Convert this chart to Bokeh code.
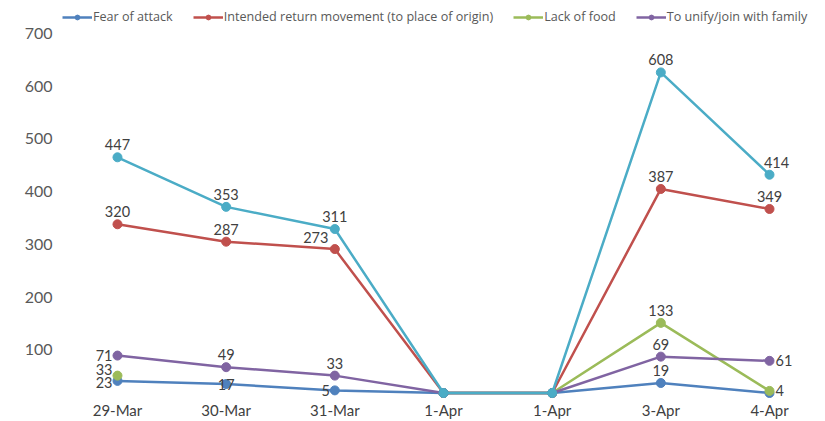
import math
from bokeh.plotting import figure
from bokeh.models import (Range1d, LinearAxis, FixedTicker, Legend, LegendItem,
                          ColumnDataSource, LabelSet)
from bokeh.core.properties import value
from bokeh.embed import file_html
from bokeh.resources import INLINE

NAN = float("nan")

# ---- data ----
categories = ["29-Mar", "30-Mar", "31-Mar", "1-Apr", "1-Apr", "3-Apr", "4-Apr"]
fear_of_attack = [23, 17, 5, 0, 0, 19, 0]
intended_return = [320, 287, 273, 0, 0, 387, 349]
lack_of_food = [33, NAN, NAN, 0, 0, 133, 4]
unify_family = [71, 49, 33, 0, 0, 69, 61]
total = [447, 353, 311, 0, 0, 608, 414]
y_ticks = [100, 200, 300, 400, 500, 600, 700]

# ---- styles ----
series = [
    ("Fear of attack", fear_of_attack, "#4F81BD", True),
    ("Intended return movement (to place of origin)", intended_return, "#C0504D", True),
    ("Lack of food", lack_of_food, "#9BBB59", True),
    ("To unify/join with family", unify_family, "#8064A2", True),
    ("Total", total, "#4BACC6", False),
]
# label placement per point: (align, baseline, dx, dy) ; dy positive = up
A = ("center", "bottom", 0, 7)
L = ("right", "middle", -5, 0)
R = ("left", "middle", 6, 0)
C = ("center", "middle", 0, 0)
label_pos = {
    "Fear of attack": [("right", "middle", -5, -2), C, L, None, None, A, None],
    "Intended return movement (to place of origin)": [A, A, ("center", "bottom", -19, 6), None, None, A, A],
    "Lack of food": [("right", "middle", -5, 6), None, None, None, None, A, R],
    "To unify/join with family": [L, A, A, None, None, A, R],
    "Total": [A, A, A, None, None, A, ("center", "bottom", 7, 7)],
}

FONT = "Lato"
xs = list(range(len(categories)))
Y0, Y1 = -12.3, 729.2

p = figure(width=825, height=421, output_backend="svg", toolbar_location=None,
           x_range=Range1d(-0.506, 6.506), y_range=Range1d(Y0, Y1),
           y_axis_location=None, min_border_left=62, min_border_right=1,
           min_border_top=8, min_border_bottom=20)
p.outline_line_color = None
p.grid.visible = False
p.background_fill_color = "white"
p.border_fill_color = "white"

# y axis (labels drawn slightly lower, as in the reference)
OFF = 18
p.extra_y_ranges = {"lab": Range1d(Y0 + OFF, Y1 + OFF)}
yax = LinearAxis(y_range_name="lab", ticker=FixedTicker(ticks=y_ticks))
yax.axis_line_color = None
yax.major_tick_line_color = None
yax.minor_tick_line_color = None
yax.major_tick_out = 0
yax.major_label_standoff = 10
yax.major_label_text_font = FONT
yax.major_label_text_font_size = "16px"
yax.major_label_text_color = "#595959"
p.add_layout(yax, "left")

xax = p.xaxis[0]
xax.ticker = FixedTicker(ticks=xs)
xax.major_label_overrides = {i: c for i, c in zip(xs, categories)}
xax.axis_line_color = None
xax.major_tick_line_color = None
xax.minor_tick_line_color = None
xax.major_tick_out = 0
xax.major_tick_in = 0
xax.major_label_standoff = 1
xax.major_label_text_font = FONT
xax.major_label_text_font_size = "15px"
xax.major_label_text_color = "#404040"

items = []
lab = dict(x=[], y=[], t=[], align=[], base=[], dx=[], dy=[])
for name, vals, color, in_legend in series:
    ln = p.line(xs, vals, line_color=color, line_width=2.5)
    sc = p.scatter(xs, vals, size=9, fill_color=color, line_color=color)
    if in_legend:
        items.append(LegendItem(label=name, renderers=[ln, sc]))
    for i, v in enumerate(vals):
        pos = label_pos[name][i]
        if pos is None or (isinstance(v, float) and math.isnan(v)) or v == 0:
            continue
        lab["x"].append(xs[i]); lab["y"].append(v); lab["t"].append(str(v))
        lab["align"].append(pos[0]); lab["base"].append(pos[1])
        lab["dx"].append(pos[2]); lab["dy"].append(pos[3])

labels = LabelSet(x="x", y="y", text="t", source=ColumnDataSource(lab),
                  text_align="align", text_baseline="base", x_offset="dx", y_offset="dy",
                  text_font=value(FONT), text_font_size=value("14.5px"),
                  text_color=value("#404040"))
p.add_layout(labels)

legend = Legend(items=items, location="top_left", orientation="horizontal",
                margin=0, padding=0, spacing=20, glyph_width=30, glyph_height=12,
                label_height=12, label_standoff=1, label_text_font="Open Sans",
                label_text_font_size="12.6px", label_text_color="#595959",
                background_fill_alpha=0, border_line_alpha=0)
p.add_layout(legend)

open("out.html", "w").write(file_html(p, INLINE))
